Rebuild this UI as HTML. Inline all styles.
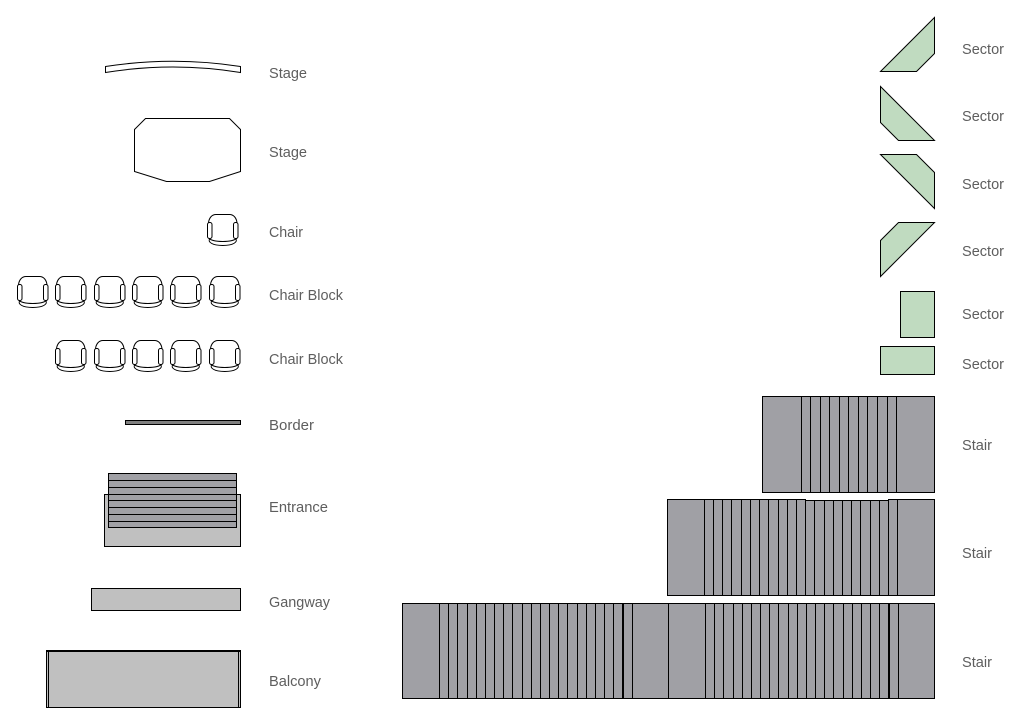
<!DOCTYPE html>
<html>
<head>
<meta charset="utf-8">
<style>
html,body{margin:0;padding:0;background:#fff;width:1030px;height:724px;overflow:hidden}
svg{display:block}
text{font-family:"Liberation Sans",sans-serif;font-size:15px;fill:#5e5e5e}
.g{fill:#c0dbc0;stroke:#000;stroke-width:1}
.s{fill:#a0a0a5;stroke:#000;stroke-width:1}
.l{stroke:#000;stroke-width:1;fill:none}
.c{fill:#fff;stroke:#000;stroke-width:1}
</style>
</head>
<body>
<svg width="1030" height="724" viewBox="0 0 1030 724" xmlns="http://www.w3.org/2000/svg">
<defs>
<g id="chair">
<path class="c" d="M2.500 25C1 28 5 31.500 15.750 31.500C26.500 31.500 30.500 28 29 25Z"/>
<path class="c" d="M1.500 10C1.500 4 5 0.500 9 0.500H22.500C26.500 0.500 30 4 30 10V24C27 27 21 27.500 15.750 27.500C10.500 27.500 4.500 27 1.500 24Z"/>
<rect class="c" x="0.500" y="8.500" width="4.500" height="16" rx="2"/>
<rect class="c" x="26.500" y="8.500" width="4.500" height="16" rx="2"/>
</g>
</defs>

<path class="c" d="M105.500 66.500Q173 56 240.500 66.500V72.500Q173 61.500 105.500 72.500Z"/>
<polygon class="c" points="145.500,118.500 229.500,118.500 240.500,129.500 240.500,171.500 209.500,181.500 166.500,181.500 134.500,171.500 134.500,129.500"/>
<use href="#chair" x="207" y="214"/>

<use href="#chair" x="17" y="276"/>
<use href="#chair" x="55" y="276"/>
<use href="#chair" x="94" y="276"/>
<use href="#chair" x="132" y="276"/>
<use href="#chair" x="170" y="276"/>
<use href="#chair" x="209" y="276"/>

<use href="#chair" x="55" y="340"/>
<use href="#chair" x="94" y="340"/>
<use href="#chair" x="132" y="340"/>
<use href="#chair" x="170" y="340"/>
<use href="#chair" x="209" y="340"/>

<rect x="125.500" y="420.500" width="115" height="4" fill="#808080" stroke="#000"/>

<rect x="104.500" y="494.500" width="136" height="52" fill="#c0c0c0" stroke="#000"/>
<rect class="s" x="108.500" y="473.500" width="128" height="54"/>
<path class="l" d="M108 480.500H237M108 487.500H237M108 494.500H237M108 500.500H237M108 507.500H237M108 514.500H237M108 521.500H237"/>

<rect x="91.500" y="588.500" width="149" height="22" fill="#c0c0c0" stroke="#000"/>

<rect x="46.500" y="650.500" width="194" height="57" fill="#c0c0c0" stroke="#000"/>
<path class="l" d="M48.500 651V707M238.500 651V707M46 651.500H241"/>

<polygon class="g" points="880.500,71.500 934.500,17.500 934.500,53.500 916.500,71.500"/>
<polygon class="g" points="880.500,86.500 934.500,140.500 898.500,140.500 880.500,122.500"/>
<polygon class="g" points="880.500,154.500 916.500,154.500 934.500,172.500 934.500,208.500"/>
<polygon class="g" points="898.500,222.500 934.500,222.500 880.500,276.500 880.500,240.500"/>
<rect class="g" x="900.500" y="291.500" width="34" height="46"/>
<rect class="g" x="880.500" y="346.500" width="54" height="28"/>

<rect class="s" x="762.500" y="396.500" width="172" height="96"/>
<path class="l" d="M801.500 396V493M810.500 396V493M820.500 396V493M829.500 396V493M839.500 396V493M848.500 396V493M858.500 396V493M867.500 396V493M877.500 396V493M887.500 396V493M896.500 396V493"/>

<path class="s" d="M667.500 499.500H805.500V500.500H888.500V499.500H934.500V595.500H667.500Z"/>
<path class="l" d="M704.500 500V596M713.500 500V596M722.500 500V596M731.500 500V596M741.500 500V596M750.500 500V596M759.500 500V596M768.500 500V596M778.500 500V596M787.500 500V596M796.500 500V596M805.500 500V596M814.500 500V596M824.500 500V596M833.500 500V596M842.500 500V596M851.500 500V596M860.500 500V596M870.500 500V596M879.500 500V596M888.500 500V596M897.500 500V596"/>

<rect class="s" x="402.500" y="603.500" width="532" height="95"/>
<path class="l" d="M439.500 603V699M448.500 603V699M457.500 603V699M467.500 603V699M476.500 603V699M485.500 603V699M494.500 603V699M503.500 603V699M512.500 603V699M522.500 603V699M531.500 603V699M540.500 603V699M549.500 603V699M558.500 603V699M567.500 603V699M577.500 603V699M586.500 603V699M595.500 603V699M604.500 603V699M613.500 603V699M622.500 603V699M623.500 603V699M632.500 603V699M668.500 603V699M705.500 603V699M714.500 603V699M723.500 603V699M733.500 603V699M742.500 603V699M751.500 603V699M760.500 603V699M769.500 603V699M778.500 603V699M788.500 603V699M797.500 603V699M806.500 603V699M815.500 603V699M824.500 603V699M833.500 603V699M843.500 603V699M852.500 603V699M861.500 603V699M870.500 603V699M879.500 603V699M888.500 603V699M889.500 603V699M898.500 603V699"/>

<text x="269" y="78" textLength="38" lengthAdjust="spacingAndGlyphs">Stage</text>
<text x="269" y="157" textLength="38" lengthAdjust="spacingAndGlyphs">Stage</text>
<text x="269" y="237" textLength="34" lengthAdjust="spacingAndGlyphs">Chair</text>
<text x="269" y="300" textLength="74" lengthAdjust="spacingAndGlyphs">Chair Block</text>
<text x="269" y="364" textLength="74" lengthAdjust="spacingAndGlyphs">Chair Block</text>
<text x="269" y="430" textLength="45" lengthAdjust="spacingAndGlyphs">Border</text>
<text x="269" y="512" textLength="59" lengthAdjust="spacingAndGlyphs">Entrance</text>
<text x="269" y="607" textLength="61" lengthAdjust="spacingAndGlyphs">Gangway</text>
<text x="269" y="686" textLength="52" lengthAdjust="spacingAndGlyphs">Balcony</text>

<text x="962" y="54" textLength="42" lengthAdjust="spacingAndGlyphs">Sector</text>
<text x="962" y="121" textLength="42" lengthAdjust="spacingAndGlyphs">Sector</text>
<text x="962" y="189" textLength="42" lengthAdjust="spacingAndGlyphs">Sector</text>
<text x="962" y="256" textLength="42" lengthAdjust="spacingAndGlyphs">Sector</text>
<text x="962" y="319" textLength="42" lengthAdjust="spacingAndGlyphs">Sector</text>
<text x="962" y="369" textLength="42" lengthAdjust="spacingAndGlyphs">Sector</text>
<text x="962" y="450" textLength="30" lengthAdjust="spacingAndGlyphs">Stair</text>
<text x="962" y="558" textLength="30" lengthAdjust="spacingAndGlyphs">Stair</text>
<text x="962" y="667" textLength="30" lengthAdjust="spacingAndGlyphs">Stair</text>
</svg>
</body>
</html>
